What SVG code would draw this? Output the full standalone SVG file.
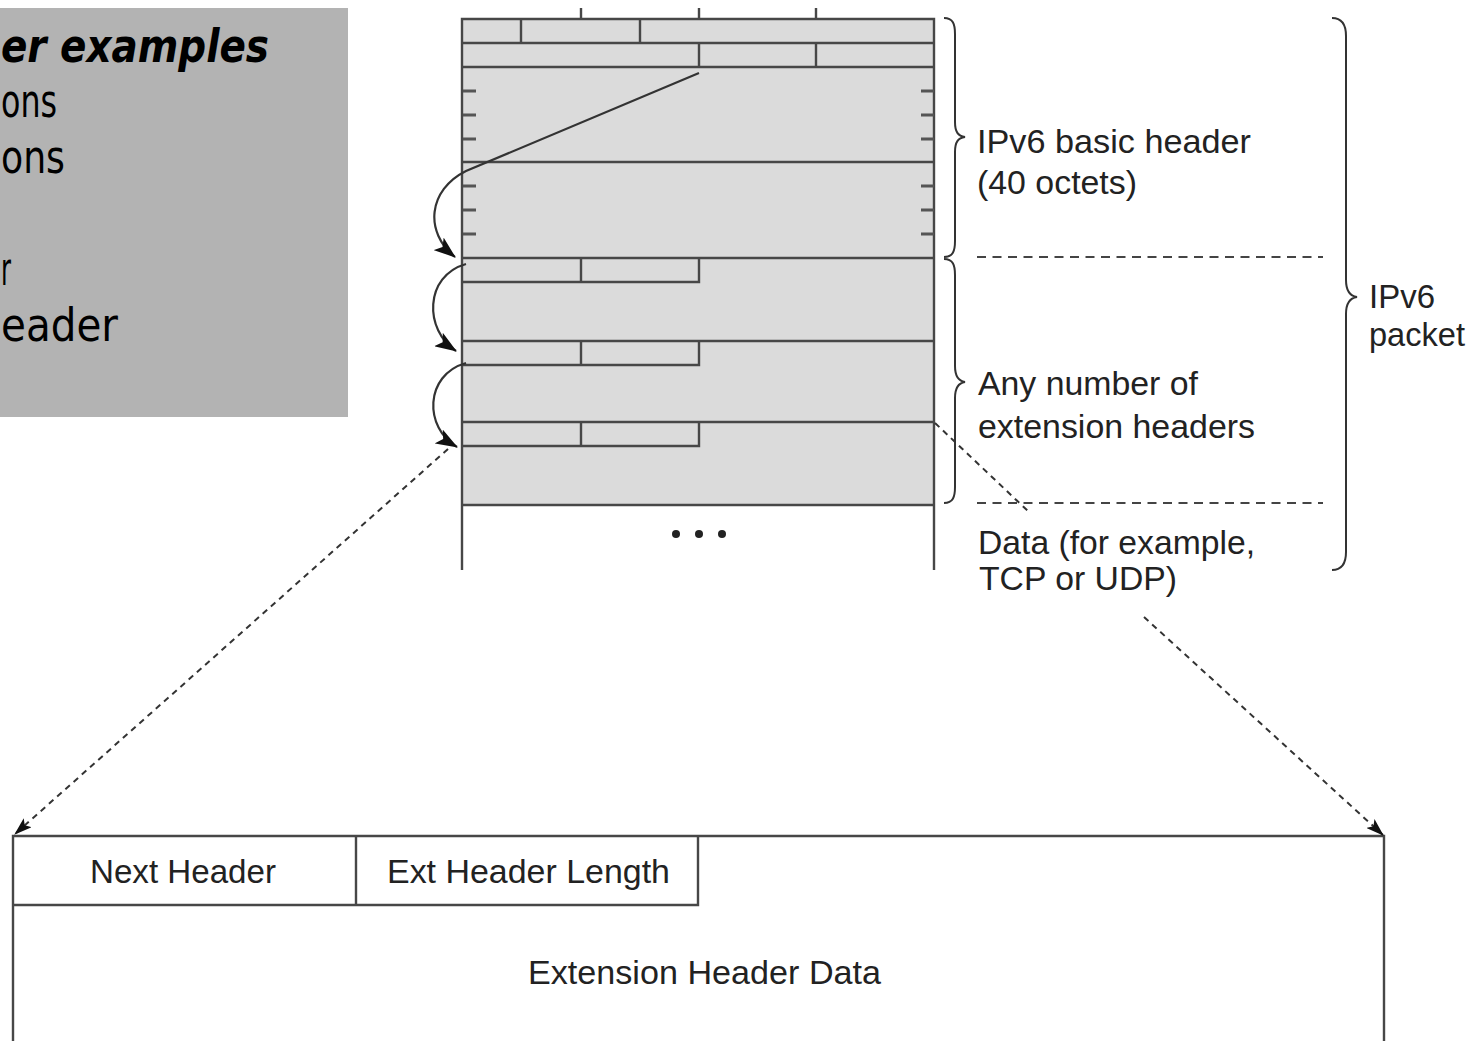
<svg xmlns="http://www.w3.org/2000/svg" width="1480" height="1041" viewBox="0 0 1480 1041">
<style>
.ln{stroke:#474747;stroke-width:2.4;fill:none}
.tk{stroke:#555;stroke-width:3;fill:none}
.br{stroke:#333;stroke-width:2;fill:none}
.dash{stroke:#444;stroke-width:1.8;fill:none;stroke-dasharray:9 6.5}
.dar{stroke:#333;stroke-width:2;fill:none;stroke-dasharray:6 5}
.arc{stroke:#333;stroke-width:2.2;fill:none}
.lbl{font-family:"Liberation Sans",Arial,sans-serif;font-size:33px;fill:#222}
.slide{font-family:"DejaVu Sans",sans-serif;font-size:46px;fill:#000}
</style>
<defs>
<marker id="ah" viewBox="0 0 22 16" refX="21" refY="8" markerWidth="22" markerHeight="16" markerUnits="userSpaceOnUse" orient="auto">
<path d="M0,0 L22,8 L0,16 L5,8 Z" fill="#111"/>
</marker>
<marker id="ahs" viewBox="0 0 18 12" refX="17" refY="6" markerWidth="18" markerHeight="12" markerUnits="userSpaceOnUse" orient="auto">
<path d="M0,0 L18,6 L0,12 L4,6 Z" fill="#111"/>
</marker>
</defs>
<rect width="1480" height="1041" fill="#fff"/>

<g id="slide-box">
<rect x="0" y="8" width="348" height="409" fill="#b3b3b3"/>
<text class="slide" x="1" y="62" font-size="48" font-weight="bold" font-style="italic" textLength="268" lengthAdjust="spacingAndGlyphs">er examples</text>
<text class="slide" x="1" y="117" textLength="56" lengthAdjust="spacingAndGlyphs">ons</text>
<text class="slide" x="1" y="173" textLength="64" lengthAdjust="spacingAndGlyphs">ons</text>
<text class="slide" x="1" y="285" textLength="10" lengthAdjust="spacingAndGlyphs">r</text>
<text class="slide" x="1" y="341" textLength="117" lengthAdjust="spacingAndGlyphs">eader</text>
</g>

<g id="packet">
<rect x="462" y="19" width="472" height="486" fill="#dbdbdb"/>
<path class="ln" d="M462,570 V19 H934 V570"/>
<path class="ln" d="M462,43 H934 M462,67 H934 M462,162 H934 M462,258 H934 M462,341 H934 M462,422 H934 M462,505 H934"/>
<path class="ln" d="M521,19 V43 M640,19 V43 M699,43 V67 M816,43 V67"/>
<path class="ln" d="M581,8 V19 M699,8 V19 M816,8 V19"/>
<path class="tk" d="M463,91 H476 M463,115 H476 M463,139 H476 M463,186 H476 M463,210 H476 M463,234 H476 M921,91 H934 M921,115 H934 M921,139 H934 M921,186 H934 M921,210 H934 M921,234 H934"/>
<path class="ln" d="M462,282 H699 V258 M581,258 V282"/>
<path class="ln" d="M462,365 H699 V341 M581,341 V365"/>
<path class="ln" d="M462,446 H699 V422 M581,422 V446"/>
<circle cx="676" cy="534" r="4" fill="#222"/>
<circle cx="699" cy="534" r="4" fill="#222"/>
<circle cx="722" cy="534" r="4" fill="#222"/>
</g>

<g id="braces">
<path class="br" d="M944,18 C953,18 955,24 955,34 L955,122 C955,132 958,136 965,137 C958,138 955,142 955,152 L955,241 C955,251 953,257 944,257"/>
<path class="br" d="M944,259 C953,259 955,265 955,275 L955,366 C955,376 958,381 965,382 C958,383 955,388 955,398 L955,487 C955,497 953,503 944,503"/>
<path class="br" d="M1332,18 C1342,18 1346,24 1346,36 L1346,280 C1346,291 1350,296 1357,297 C1350,298 1346,303 1346,314 L1346,552 C1346,564 1342,570 1332,570"/>
<path class="dash" d="M977,257 H1323 M977,503 H1323"/>
</g>

<g id="labels">
<text class="lbl" x="977" y="153" textLength="274" lengthAdjust="spacingAndGlyphs">IPv6 basic header</text>
<text class="lbl" x="977" y="194" textLength="160" lengthAdjust="spacingAndGlyphs">(40 octets)</text>
<text class="lbl" x="1369" y="308" textLength="66" lengthAdjust="spacingAndGlyphs">IPv6</text>
<text class="lbl" x="1369" y="346" textLength="96" lengthAdjust="spacingAndGlyphs">packet</text>
<text class="lbl" x="978" y="395" textLength="220" lengthAdjust="spacingAndGlyphs">Any number of</text>
<text class="lbl" x="978" y="438" textLength="277" lengthAdjust="spacingAndGlyphs">extension headers</text>
<text class="lbl" x="978" y="554" textLength="277" lengthAdjust="spacingAndGlyphs">Data (for example,</text>
<text class="lbl" x="979" y="590" textLength="198" lengthAdjust="spacingAndGlyphs">TCP or UDP)</text>
</g>

<g id="ext-header">
<path class="ln" d="M13,1041 V836 H1384 V1041"/>
<path class="ln" d="M13,905 H698 V836 M356,836 V905"/>
<text class="lbl" x="90" y="883" textLength="186" lengthAdjust="spacingAndGlyphs">Next Header</text>
<text class="lbl" x="387" y="883" textLength="283" lengthAdjust="spacingAndGlyphs">Ext Header Length</text>
<text class="lbl" x="528" y="984" textLength="353" lengthAdjust="spacingAndGlyphs">Extension Header Data</text>
</g>

<g id="connectors">
<path class="arc" d="M699,73 L466,171 C428,190 424,232 455,257" marker-end="url(#ah)"/>
<path class="arc" d="M466,264 C424,276 424,330 456,351" marker-end="url(#ah)"/>
<path class="arc" d="M466,363 C424,375 424,428 457,447" marker-end="url(#ah)"/>
<path class="dar" d="M448,449 L15,834" marker-end="url(#ahs)"/>
<path class="dar" d="M935,423 L1030,513"/>
<path class="dar" d="M1144,617 L1383,835" marker-end="url(#ahs)"/>
</g>
</svg>
